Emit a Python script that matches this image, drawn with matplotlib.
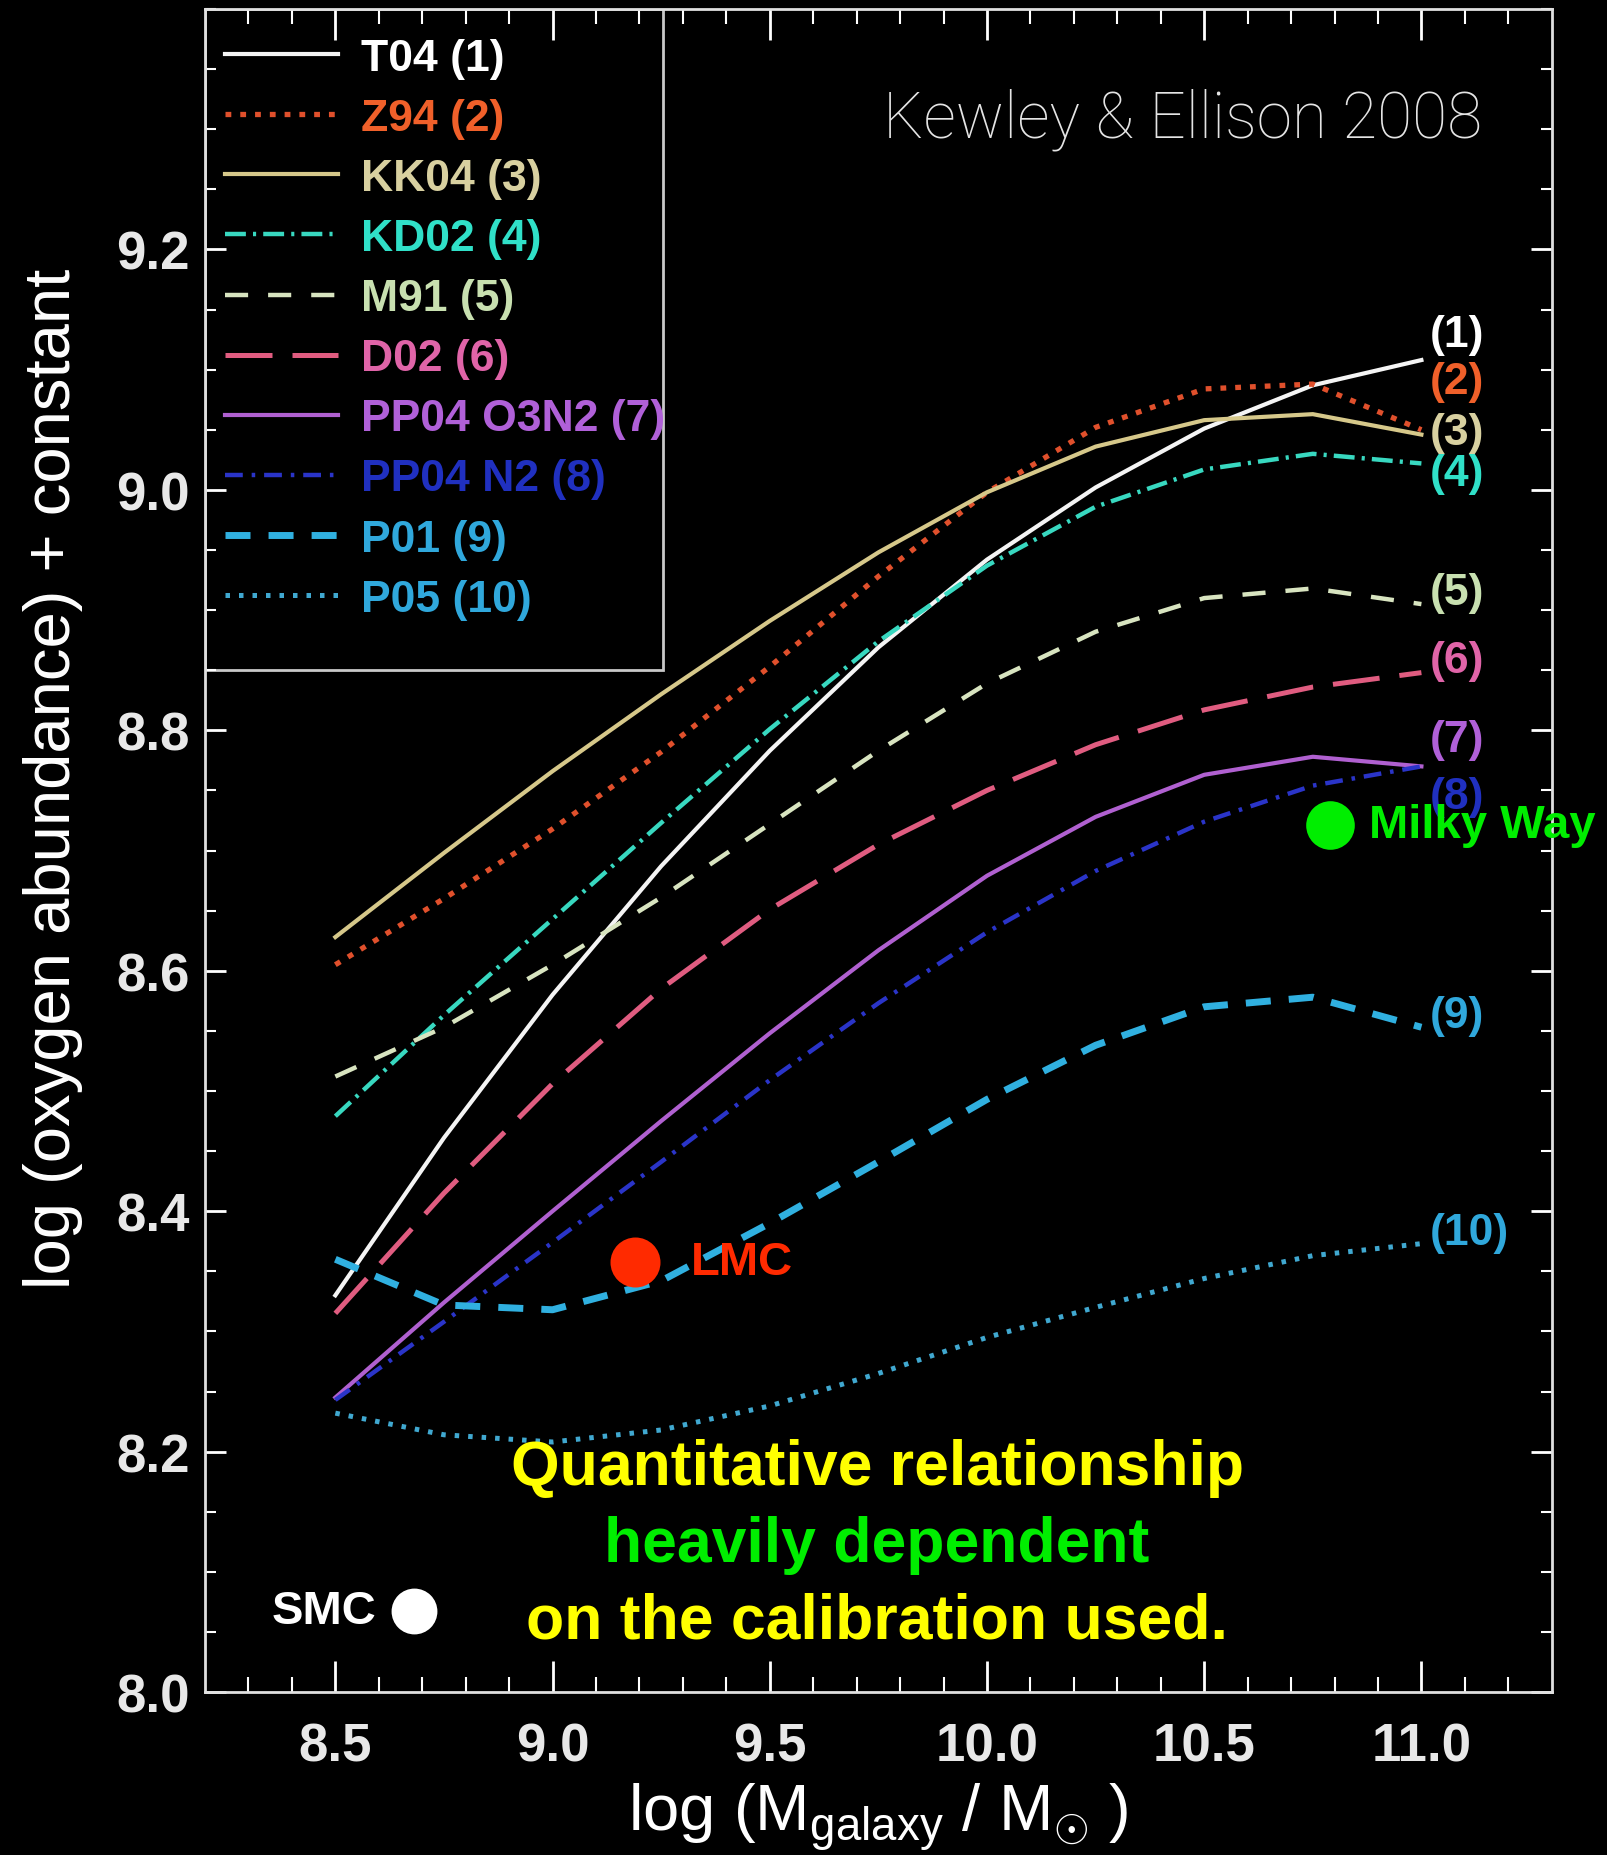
import matplotlib
matplotlib.use('Agg')
import matplotlib.pyplot as plt
from matplotlib.patches import Rectangle

plt.rcParams['font.family'] = ['Liberation Sans', 'DejaVu Sans']
plt.rcParams['mathtext.fontset'] = 'custom'
plt.rcParams['mathtext.rm'] = 'Liberation Sans'

log_mass = [8.5, 8.75, 9.0, 9.25, 9.5, 9.75, 10.0, 10.25, 10.5, 10.75, 11.0]
t04 = [8.330, 8.461, 8.580, 8.687, 8.783, 8.869, 8.942, 9.002, 9.051, 9.087, 9.108]
z94 = [8.605, 8.660, 8.718, 8.782, 8.853, 8.928, 8.998, 9.052, 9.084, 9.088, 9.050]
kk04 = [8.628, 8.698, 8.766, 8.830, 8.891, 8.948, 8.998, 9.036, 9.058, 9.063, 9.046]
kd02 = [8.479, 8.563, 8.643, 8.723, 8.801, 8.874, 8.937, 8.986, 9.017, 9.030, 9.022]
m91 = [8.512, 8.553, 8.605, 8.661, 8.722, 8.783, 8.839, 8.882, 8.910, 8.918, 8.905]
d02 = [8.315, 8.415, 8.506, 8.585, 8.651, 8.705, 8.750, 8.788, 8.817, 8.836, 8.848]
pp04_o3n2 = [8.245, 8.324, 8.400, 8.475, 8.548, 8.617, 8.679, 8.728, 8.763, 8.778, 8.770]
pp04_n2 = [8.243, 8.308, 8.374, 8.441, 8.509, 8.573, 8.632, 8.683, 8.724, 8.754, 8.770]
p01 = [8.360, 8.322, 8.318, 8.342, 8.390, 8.441, 8.493, 8.538, 8.570, 8.578, 8.553]
p05 = [8.232, 8.214, 8.208, 8.218, 8.238, 8.265, 8.295, 8.320, 8.344, 8.363, 8.373]

series = [t04, z94, kk04, kd02, m91, d02, pp04_o3n2, pp04_n2, p01, p05]
names = ['T04 (1)', 'Z94 (2)', 'KK04 (3)', 'KD02 (4)', 'M91 (5)', 'D02 (6)',
         'PP04 O3N2 (7)', 'PP04 N2 (8)', 'P01 (9)', 'P05 (10)']
tags = ['(1)', '(2)', '(3)', '(4)', '(5)', '(6)', '(7)', '(8)', '(9)', '(10)']
tag_y = [9.129, 9.090, 9.048, 9.014, 8.915, 8.858, 8.792, 8.745, 8.563, 8.382]

galaxies = ['SMC', 'LMC', 'Milky Way']
gal_mass = [8.68, 9.19, 10.79]
gal_oh = [8.067, 8.358, 8.721]

xticks = [8.5, 9.0, 9.5, 10.0, 10.5, 11.0]
yticks = [8.0, 8.2, 8.4, 8.6, 8.8, 9.0, 9.2]

line_colors = ['#f4f4f4', '#e0502c', '#d6c88a', '#38d8c0', '#d8e4c0',
               '#e05c80', '#b060d0', '#2a34c8', '#30b0e0', '#40a8d0']
text_colors = ['#ffffff', '#f0602a', '#d8d0a0', '#30e0c8', '#c8e0b0',
               '#e064a8', '#b060d8', '#2030c0', '#30a8dc', '#30a8dc']
widths = [3.0, 3.8, 3.0, 3.2, 3.2, 3.6, 3.0, 3.2, 5.0, 3.6]
dashes = [None, (1.1, 1.7), None, (4.7, 1.6, 0.7, 1.6), (5.2, 4.5), (9.4, 4),
          None, (4, 2, 0.8, 2), (3.6, 2.6), (0.9, 1.8)]
gal_colors = ['#ffffff', '#ff2a00', '#00ee00']
gal_sizes = [33, 36, 35]
gal_offsets = [-27, 40, 28]

fig = plt.figure(figsize=(16.08, 18.56), dpi=100, facecolor='black')
ax = fig.add_axes([0.1275, 0.0878, 0.8375, 0.9068], facecolor='black')

lines = []
for ys, c, w, d in zip(series, line_colors, widths, dashes):
    ln, = ax.plot(log_mass, ys, color=c, lw=w)
    if d is not None:
        ln.set_dashes(d)
    lines.append(ln)

for t, y, c in zip(tags, tag_y, text_colors):
    ax.text(11.02, y, t, color=c, fontsize=32, fontweight='bold',
            ha='left', va='center')

for name, x, y, c, s, off in zip(galaxies, gal_mass, gal_oh, gal_colors,
                                 gal_sizes, gal_offsets):
    ax.plot(x, y, 'o', color=c, ms=s, mec='none', zorder=5)
    ax.annotate(name, (x, y), xytext=(off, 0), textcoords='offset points',
                color=c, fontsize=34, fontweight='bold', va='center',
                ha='right' if off < 0 else 'left')

leg = ax.legend(lines, names, loc='upper left', bbox_to_anchor=(0.0148, 0.983),
                frameon=False, borderaxespad=0, borderpad=0, labelspacing=0.43,
                handlelength=2.55, handletextpad=0.5, labelcolor=text_colors,
                prop={'size': 32, 'weight': 'bold'})
ax.add_patch(Rectangle((0, 0.607), 0.34, 0.393, transform=ax.transAxes,
                       fill=False, edgecolor='#c8c8c8', lw=2, zorder=1))

ax.text(11.139, 9.309, 'Kewley & Ellison 2008', color='#e4e4e4', fontsize=46,
        family=['Roboto', 'DejaVu Sans'], fontweight='light', ha='right', va='center')

ax.text(9.747, 8.187, 'Quantitative relationship', color='#ffff00',
        fontsize=45, fontweight='bold', ha='center', va='center')
ax.text(9.747, 8.123, 'heavily dependent', color='#00ee00',
        fontsize=45, fontweight='bold', ha='center', va='center')
ax.text(9.747, 8.059, 'on the calibration used.', color='#ffff00',
        fontsize=45, fontweight='bold', ha='center', va='center')

ax.set_xlim(8.2, 11.3)
ax.set_ylim(8.0, 9.4)
ax.set_xticks(xticks)
ax.set_yticks(yticks)
ax.set_xticks([v / 10 for v in range(83, 113)], minor=True)
ax.set_yticks([v / 100 for v in range(800, 941, 5)], minor=True)
ax.tick_params(axis='x', which='major', direction='in', length=22, width=2,
               top=True, colors='white', labelsize=38, pad=21)
ax.tick_params(axis='x', which='minor', direction='in', length=11, width=1.5, top=True,
               colors='white')
ax.tick_params(axis='y', which='major', direction='in', length=15, width=2,
               right=True, colors='white', labelsize=38, pad=11)
ax.tick_params(axis='y', which='minor', direction='in', length=8, width=1.5, right=True,
               colors='white')
plt.setp(ax.get_xticklabels() + ax.get_yticklabels(), fontweight='bold', color='#e8e8e8')
for sp in ax.spines.values():
    sp.set_color('#e0e0e0')
    sp.set_linewidth(2)

ax.set_xlabel(r'log (M$_{\mathregular{galaxy}}$ / M$_{\odot}$ )', color='white',
              fontsize=47, va='center')
ax.xaxis.set_label_coords(0.5, -0.0743)
ax.set_ylabel('log (oxygen abundance) + constant', color='white', fontsize=47,
              va='center')
ax.yaxis.set_label_coords(-0.113, 0.543)

fig.savefig('out.png', dpi=100, facecolor='black')
